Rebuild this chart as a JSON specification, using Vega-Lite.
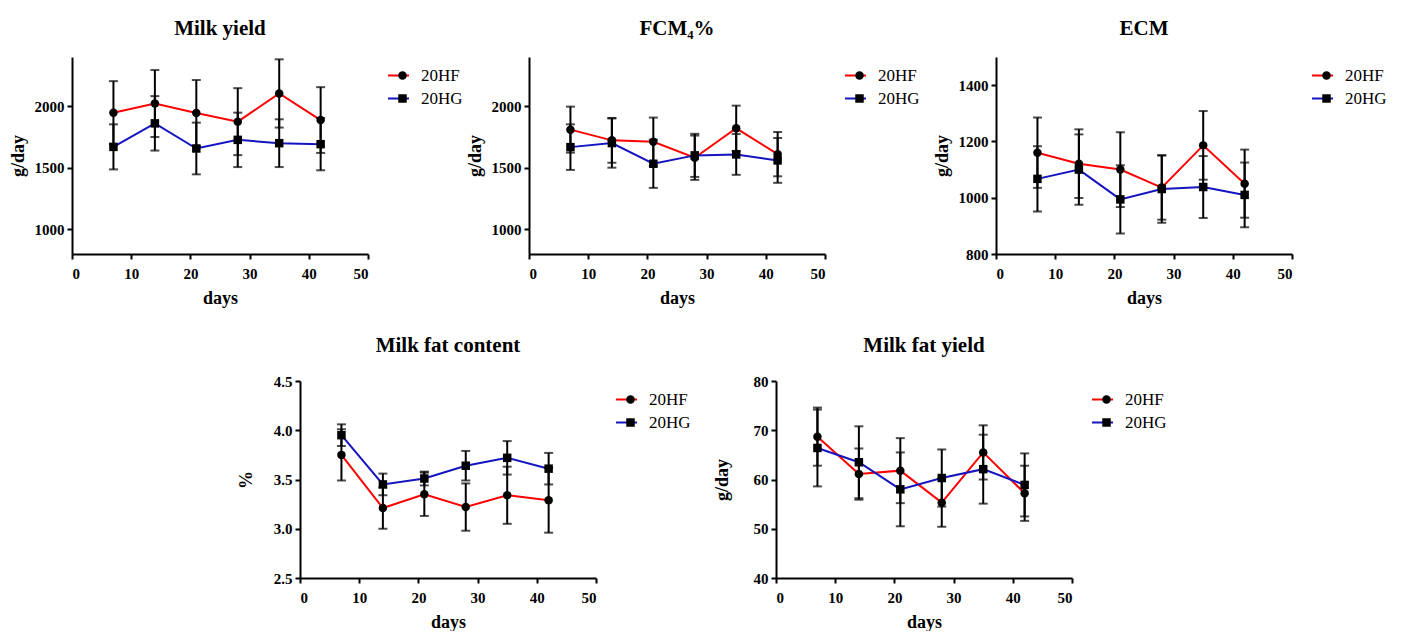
{
  "$schema": "https://vega.github.io/schema/vega-lite/v6.json",
  "padding": {"left": 9, "top": 18, "right": 0, "bottom": 0},
  "background": "white",
  "config": {
    "view": {"stroke": null},
    "font": "Liberation Serif",
    "title": {"font": "Liberation Serif", "fontSize": 21, "fontWeight": "bold", "color": "black", "anchor": "middle", "offset": 18},
    "axis": {"grid": false, "domainColor": "black", "domainWidth": 2, "tickColor": "black", "tickWidth": 2, "tickSize": 5, "labelFont": "Liberation Serif", "labelFontSize": 15, "labelFontWeight": "bold", "labelColor": "black", "labelPadding": 3, "titleFont": "Liberation Serif", "titleFontSize": 18, "titleFontWeight": "bold", "titleColor": "black"},
    "axisX": {"titlePadding": 8, "labelPadding": 7},
    "axisY": {"minExtent": 44, "maxExtent": 44, "titlePadding": 1},
    "legend": {"orient": "none", "title": null, "clipHeight": 23, "rowPadding": 0, "labelFont": "Liberation Serif", "labelFontSize": 17, "labelFontWeight": "normal", "labelColor": "black"}
  },
  "datasets": {
    "d": [
      {"panel": "my", "day": 7, "group": "20HF", "mean": 1948, "sd": 256},
      {"panel": "my", "day": 14, "group": "20HF", "mean": 2022, "sd": 272},
      {"panel": "my", "day": 21, "group": "20HF", "mean": 1945, "sd": 268},
      {"panel": "my", "day": 28, "group": "20HF", "mean": 1875, "sd": 272},
      {"panel": "my", "day": 35, "group": "20HF", "mean": 2104, "sd": 277},
      {"panel": "my", "day": 42, "group": "20HF", "mean": 1888, "sd": 267},
      {"panel": "my", "day": 7, "group": "20HG", "mean": 1670, "sd": 183},
      {"panel": "my", "day": 14, "group": "20HG", "mean": 1861, "sd": 221},
      {"panel": "my", "day": 21, "group": "20HG", "mean": 1657, "sd": 210},
      {"panel": "my", "day": 28, "group": "20HG", "mean": 1727, "sd": 221},
      {"panel": "my", "day": 35, "group": "20HG", "mean": 1700, "sd": 194},
      {"panel": "my", "day": 42, "group": "20HG", "mean": 1692, "sd": 212},
      {"panel": "fcm", "day": 7, "group": "20HF", "mean": 1810, "sd": 187},
      {"panel": "fcm", "day": 14, "group": "20HF", "mean": 1723, "sd": 182},
      {"panel": "fcm", "day": 21, "group": "20HF", "mean": 1712, "sd": 196},
      {"panel": "fcm", "day": 28, "group": "20HF", "mean": 1582, "sd": 180},
      {"panel": "fcm", "day": 35, "group": "20HF", "mean": 1821, "sd": 184},
      {"panel": "fcm", "day": 42, "group": "20HF", "mean": 1611, "sd": 180},
      {"panel": "fcm", "day": 7, "group": "20HG", "mean": 1668, "sd": 185},
      {"panel": "fcm", "day": 14, "group": "20HG", "mean": 1701, "sd": 200},
      {"panel": "fcm", "day": 21, "group": "20HG", "mean": 1533, "sd": 196},
      {"panel": "fcm", "day": 28, "group": "20HG", "mean": 1601, "sd": 175},
      {"panel": "fcm", "day": 35, "group": "20HG", "mean": 1609, "sd": 166},
      {"panel": "fcm", "day": 42, "group": "20HG", "mean": 1560, "sd": 182},
      {"panel": "ecm", "day": 7, "group": "20HF", "mean": 1160, "sd": 125},
      {"panel": "ecm", "day": 14, "group": "20HF", "mean": 1121, "sd": 122},
      {"panel": "ecm", "day": 21, "group": "20HF", "mean": 1100, "sd": 133},
      {"panel": "ecm", "day": 28, "group": "20HF", "mean": 1036, "sd": 114},
      {"panel": "ecm", "day": 35, "group": "20HF", "mean": 1186, "sd": 122},
      {"panel": "ecm", "day": 42, "group": "20HF", "mean": 1050, "sd": 121},
      {"panel": "ecm", "day": 7, "group": "20HG", "mean": 1067, "sd": 116},
      {"panel": "ecm", "day": 14, "group": "20HG", "mean": 1100, "sd": 125},
      {"panel": "ecm", "day": 21, "group": "20HG", "mean": 994, "sd": 121},
      {"panel": "ecm", "day": 28, "group": "20HG", "mean": 1031, "sd": 120},
      {"panel": "ecm", "day": 35, "group": "20HG", "mean": 1038, "sd": 110},
      {"panel": "ecm", "day": 42, "group": "20HG", "mean": 1010, "sd": 115},
      {"panel": "fc", "day": 7, "group": "20HF", "mean": 3.75, "sd": 0.26},
      {"panel": "fc", "day": 14, "group": "20HF", "mean": 3.21, "sd": 0.21},
      {"panel": "fc", "day": 21, "group": "20HF", "mean": 3.35, "sd": 0.22},
      {"panel": "fc", "day": 28, "group": "20HF", "mean": 3.22, "sd": 0.24},
      {"panel": "fc", "day": 35, "group": "20HF", "mean": 3.34, "sd": 0.29},
      {"panel": "fc", "day": 42, "group": "20HF", "mean": 3.29, "sd": 0.33},
      {"panel": "fc", "day": 7, "group": "20HG", "mean": 3.95, "sd": 0.11},
      {"panel": "fc", "day": 14, "group": "20HG", "mean": 3.45, "sd": 0.11},
      {"panel": "fc", "day": 21, "group": "20HG", "mean": 3.51, "sd": 0.07},
      {"panel": "fc", "day": 28, "group": "20HG", "mean": 3.64, "sd": 0.15},
      {"panel": "fc", "day": 35, "group": "20HG", "mean": 3.72, "sd": 0.17},
      {"panel": "fc", "day": 42, "group": "20HG", "mean": 3.61, "sd": 0.16},
      {"panel": "fy", "day": 7, "group": "20HF", "mean": 68.7, "sd": 5.9},
      {"panel": "fy", "day": 14, "group": "20HF", "mean": 61.1, "sd": 5.2},
      {"panel": "fy", "day": 21, "group": "20HF", "mean": 61.8, "sd": 6.6},
      {"panel": "fy", "day": 28, "group": "20HF", "mean": 55.3, "sd": 4.9},
      {"panel": "fy", "day": 35, "group": "20HF", "mean": 65.5, "sd": 5.5},
      {"panel": "fy", "day": 42, "group": "20HF", "mean": 57.2, "sd": 5.6},
      {"panel": "fy", "day": 7, "group": "20HG", "mean": 66.4, "sd": 7.8},
      {"panel": "fy", "day": 14, "group": "20HG", "mean": 63.5, "sd": 7.3},
      {"panel": "fy", "day": 21, "group": "20HG", "mean": 58.0, "sd": 7.5},
      {"panel": "fy", "day": 28, "group": "20HG", "mean": 60.3, "sd": 5.8},
      {"panel": "fy", "day": 35, "group": "20HG", "mean": 62.1, "sd": 7.0},
      {"panel": "fy", "day": 42, "group": "20HG", "mean": 58.9, "sd": 6.4}
    ]
  },
  "resolve": {"scale": {"color": "independent", "shape": "independent"}, "legend": {"color": "independent", "shape": "independent"}},
  "spacing": 28,
  "center": true,
  "vconcat": [
    {
      "spacing": 13,
      "resolve": {"scale": {"color": "independent", "shape": "independent"}, "legend": {"color": "independent", "shape": "independent"}},
      "hconcat": [
        {
          "spacing": 3,
          "resolve": {"scale": {"color": "independent", "shape": "independent"}, "legend": {"color": "independent", "shape": "independent"}},
          "hconcat": [
            {
              "width": 296, "height": 197, "title": "Milk yield",
              "data": {"name": "d"},
              "transform": [{"filter": "datum.panel === 'my'"}],
              "encoding": {
                "x": {"field": "day", "type": "quantitative", "scale": {"domain": [0, 50], "nice": false}, "axis": {"values": [0, 10, 20, 30, 40, 50], "title": "days"}},
                "y": {"field": "mean", "type": "quantitative", "scale": {"domain": [800, 2400], "nice": false, "zero": false}, "axis": {"values": [1000, 1500, 2000], "format": "d", "title": "g/day"}}
              },
              "layer": [
                {"mark": {"type": "line", "strokeWidth": 2}, "encoding": {"color": {"field": "group", "type": "nominal", "scale": {"domain": ["20HF", "20HG"], "range": ["#ff0000", "#1414c0"]}, "legend": {"legendX": 315, "legendY": 7, "symbolType": "stroke", "symbolSize": 441, "symbolStrokeWidth": 2, "labelOffset": 11, "zindex": 1}}}},
                {"mark": {"type": "errorbar", "color": "black", "ticks": {"size": 9, "thickness": 2}, "rule": {"strokeWidth": 2}}, "encoding": {"yError": {"field": "sd"}}},
                {"mark": {"type": "point", "filled": true, "opacity": 1, "color": "black", "size": 72}, "encoding": {"shape": {"field": "group", "type": "nominal", "scale": {"range": ["circle", "square"]}, "legend": {"legendX": 322, "legendY": 7, "symbolSize": 72, "symbolFillColor": "black", "symbolStrokeColor": "black", "symbolStrokeWidth": 0, "labelExpr": "''", "labelOffset": 4, "zindex": 2}}}}
              ]
            },
            {
              "width": 296, "height": 197, "title": "FCM₄%",
              "data": {"name": "d"},
              "transform": [{"filter": "datum.panel === 'fcm'"}],
              "encoding": {
                "x": {"field": "day", "type": "quantitative", "scale": {"domain": [0, 50], "nice": false}, "axis": {"values": [0, 10, 20, 30, 40, 50], "title": "days"}},
                "y": {"field": "mean", "type": "quantitative", "scale": {"domain": [800, 2400], "nice": false, "zero": false}, "axis": {"values": [1000, 1500, 2000], "format": "d", "title": "g/day"}}
              },
              "layer": [
                {"mark": {"type": "line", "strokeWidth": 2}, "encoding": {"color": {"field": "group", "type": "nominal", "scale": {"domain": ["20HF", "20HG"], "range": ["#ff0000", "#1414c0"]}, "legend": {"legendX": 315, "legendY": 7, "symbolType": "stroke", "symbolSize": 441, "symbolStrokeWidth": 2, "labelOffset": 11, "zindex": 1}}}},
                {"mark": {"type": "errorbar", "color": "black", "ticks": {"size": 9, "thickness": 2}, "rule": {"strokeWidth": 2}}, "encoding": {"yError": {"field": "sd"}}},
                {"mark": {"type": "point", "filled": true, "opacity": 1, "color": "black", "size": 72}, "encoding": {"shape": {"field": "group", "type": "nominal", "scale": {"range": ["circle", "square"]}, "legend": {"legendX": 322, "legendY": 7, "symbolSize": 72, "symbolFillColor": "black", "symbolStrokeColor": "black", "symbolStrokeWidth": 0, "labelExpr": "''", "labelOffset": 4, "zindex": 2}}}}
              ]
            }
          ]
        },
        {
          "width": 296, "height": 197, "title": "ECM",
          "data": {"name": "d"},
          "transform": [{"filter": "datum.panel === 'ecm'"}],
          "encoding": {
            "x": {"field": "day", "type": "quantitative", "scale": {"domain": [0, 50], "nice": false}, "axis": {"values": [0, 10, 20, 30, 40, 50], "title": "days"}},
            "y": {"field": "mean", "type": "quantitative", "scale": {"domain": [800, 1500], "nice": false, "zero": false}, "axis": {"values": [800, 1000, 1200, 1400], "format": "d", "title": "g/day"}}
          },
          "layer": [
            {"mark": {"type": "line", "strokeWidth": 2}, "encoding": {"color": {"field": "group", "type": "nominal", "scale": {"domain": ["20HF", "20HG"], "range": ["#ff0000", "#1414c0"]}, "legend": {"legendX": 315, "legendY": 7, "symbolType": "stroke", "symbolSize": 441, "symbolStrokeWidth": 2, "labelOffset": 11, "zindex": 1}}}},
            {"mark": {"type": "errorbar", "color": "black", "ticks": {"size": 9, "thickness": 2}, "rule": {"strokeWidth": 2}}, "encoding": {"yError": {"field": "sd"}}},
            {"mark": {"type": "point", "filled": true, "opacity": 1, "color": "black", "size": 72}, "encoding": {"shape": {"field": "group", "type": "nominal", "scale": {"range": ["circle", "square"]}, "legend": {"legendX": 322, "legendY": 7, "symbolSize": 72, "symbolFillColor": "black", "symbolStrokeColor": "black", "symbolStrokeWidth": 0, "labelExpr": "''", "labelOffset": 60, "zindex": 2}}}}
          ]
        }
      ]
    },
    {
      "spacing": 22,
      "resolve": {"scale": {"color": "independent", "shape": "independent"}, "legend": {"color": "independent", "shape": "independent"}},
      "hconcat": [
        {
          "width": 296, "height": 197, "title": "Milk fat content",
          "data": {"name": "d"},
          "transform": [{"filter": "datum.panel === 'fc'"}],
          "encoding": {
            "x": {"field": "day", "type": "quantitative", "scale": {"domain": [0, 50], "nice": false}, "axis": {"values": [0, 10, 20, 30, 40, 50], "title": "days"}},
            "y": {"field": "mean", "type": "quantitative", "scale": {"domain": [2.5, 4.5], "nice": false, "zero": false}, "axis": {"values": [2.5, 3.0, 3.5, 4.0, 4.5], "format": ".1f", "title": "%"}}
          },
          "layer": [
            {"mark": {"type": "line", "strokeWidth": 2}, "encoding": {"color": {"field": "group", "type": "nominal", "scale": {"domain": ["20HF", "20HG"], "range": ["#ff0000", "#1414c0"]}, "legend": {"legendX": 315, "legendY": 7, "symbolType": "stroke", "symbolSize": 441, "symbolStrokeWidth": 2, "labelOffset": 11, "zindex": 1}}}},
            {"mark": {"type": "errorbar", "color": "black", "ticks": {"size": 9, "thickness": 2}, "rule": {"strokeWidth": 2}}, "encoding": {"yError": {"field": "sd"}}},
            {"mark": {"type": "point", "filled": true, "opacity": 1, "color": "black", "size": 72}, "encoding": {"shape": {"field": "group", "type": "nominal", "scale": {"range": ["circle", "square"]}, "legend": {"legendX": 322, "legendY": 7, "symbolSize": 72, "symbolFillColor": "black", "symbolStrokeColor": "black", "symbolStrokeWidth": 0, "labelExpr": "''", "labelOffset": 4, "zindex": 2}}}}
          ]
        },
        {
          "width": 296, "height": 197, "title": "Milk fat yield",
          "data": {"name": "d"},
          "transform": [{"filter": "datum.panel === 'fy'"}],
          "encoding": {
            "x": {"field": "day", "type": "quantitative", "scale": {"domain": [0, 50], "nice": false}, "axis": {"values": [0, 10, 20, 30, 40, 50], "title": "days"}},
            "y": {"field": "mean", "type": "quantitative", "scale": {"domain": [40, 80], "nice": false, "zero": false}, "axis": {"values": [40, 50, 60, 70, 80], "format": "d", "title": "g/day"}}
          },
          "layer": [
            {"mark": {"type": "line", "strokeWidth": 2}, "encoding": {"color": {"field": "group", "type": "nominal", "scale": {"domain": ["20HF", "20HG"], "range": ["#ff0000", "#1414c0"]}, "legend": {"legendX": 315, "legendY": 7, "symbolType": "stroke", "symbolSize": 441, "symbolStrokeWidth": 2, "labelOffset": 11, "zindex": 1}}}},
            {"mark": {"type": "errorbar", "color": "black", "ticks": {"size": 9, "thickness": 2}, "rule": {"strokeWidth": 2}}, "encoding": {"yError": {"field": "sd"}}},
            {"mark": {"type": "point", "filled": true, "opacity": 1, "color": "black", "size": 72}, "encoding": {"shape": {"field": "group", "type": "nominal", "scale": {"range": ["circle", "square"]}, "legend": {"legendX": 322, "legendY": 7, "symbolSize": 72, "symbolFillColor": "black", "symbolStrokeColor": "black", "symbolStrokeWidth": 0, "labelExpr": "''", "labelOffset": 4, "zindex": 2}}}}
          ]
        }
      ]
    }
  ]
}
